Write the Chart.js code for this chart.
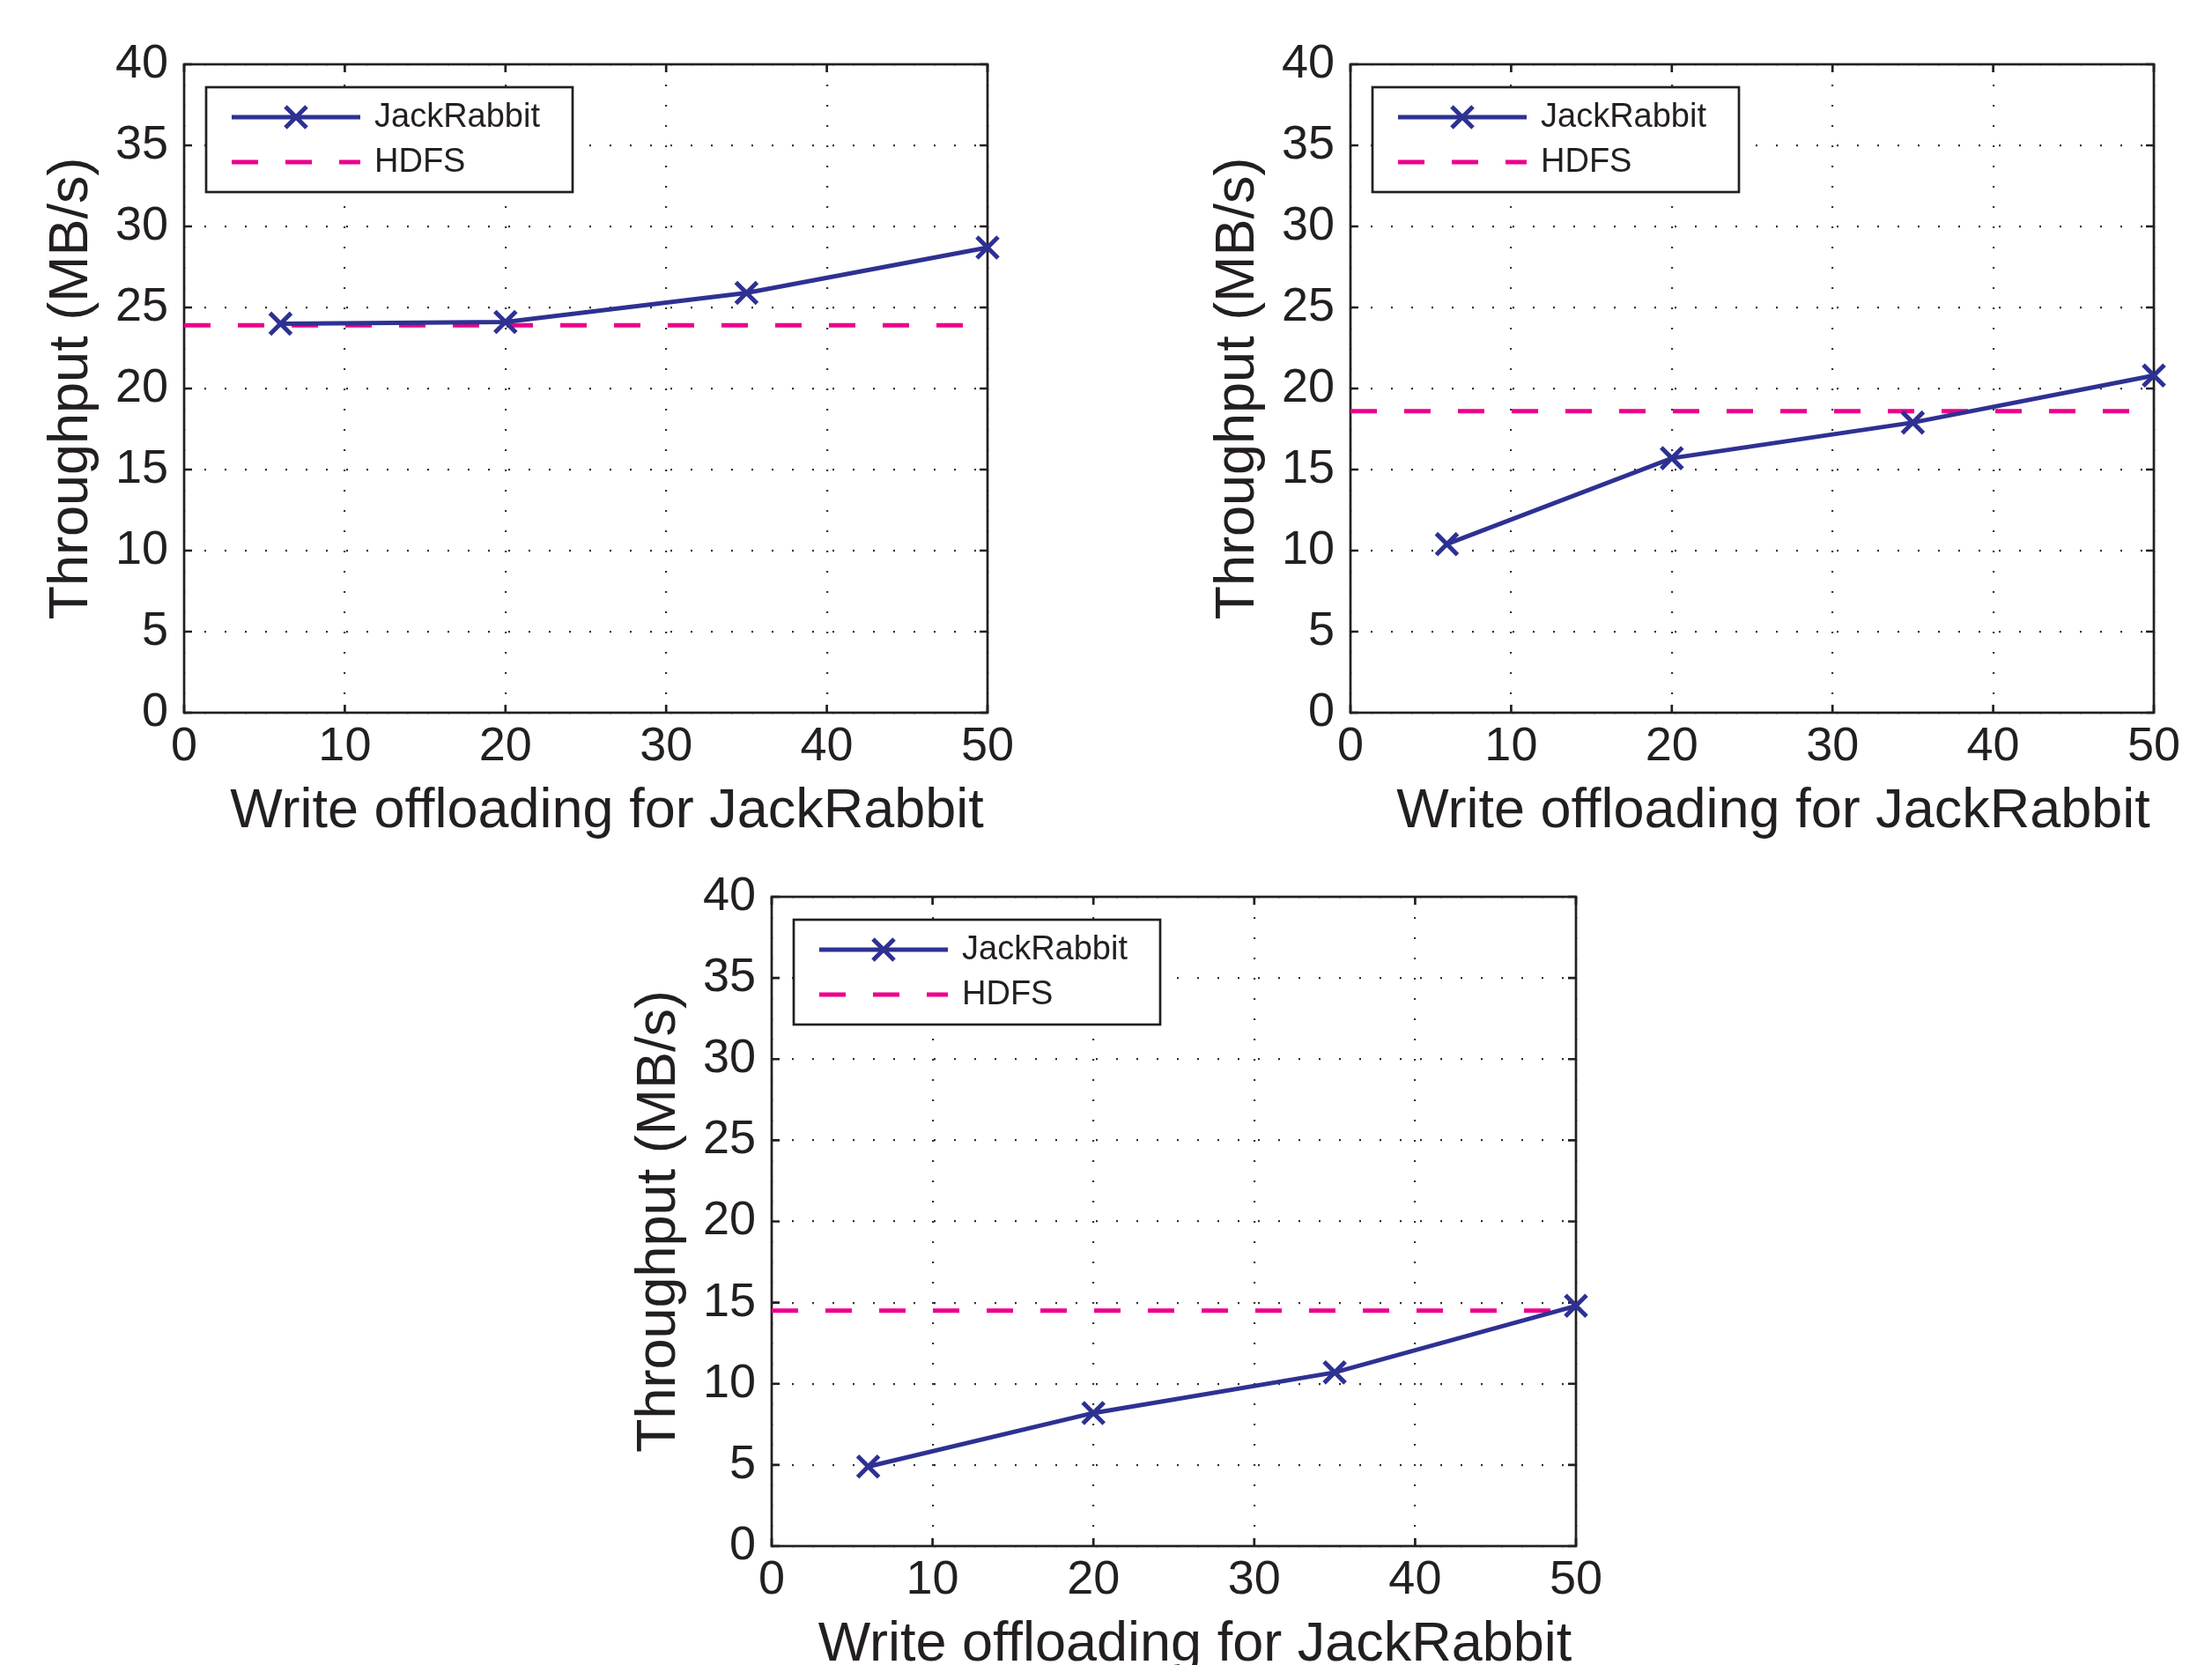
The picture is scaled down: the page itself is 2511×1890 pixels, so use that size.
<!DOCTYPE html>
<html lang="en">
<head>
<meta charset="UTF-8">
<title>Write offloading for JackRabbit</title>
<script src="https://cdn.jsdelivr.net/npm/chart.js"></script>
<style>
  html, body { margin: 0; padding: 0; background: #fff; overflow: hidden; }
  body { width: 2511px; height: 1890px; position: relative; }
  canvas { position: absolute; }
</style>
</head>
<body>
<canvas id="chart-a" width="1250" height="960" style="left:0px;top:0px"></canvas>
<canvas id="chart-b" width="1187" height="960" style="left:1324px;top:0px"></canvas>
<canvas id="chart-c" width="1250" height="961" style="left:667px;top:945px"></canvas>

<script>
    // offloading levels on the x axis
    const offloading = [6, 20, 35, 50];

    // JackRabbit throughput (MB/s), one list per panel
    const jackRabbitA = [24.0, 24.1, 25.9, 28.7];
    const jackRabbitB = [10.4, 15.7, 17.9, 20.8];
    const jackRabbitC = [4.9, 8.2, 10.7, 14.8];

    // HDFS baseline (MB/s)
    const hdfsA = 23.9;
    const hdfsB = 18.6;
    const hdfsC = 14.5;

    const xTicks = [0, 10, 20, 30, 40, 50];
    const yTicks = [0, 5, 10, 15, 20, 25, 30, 35, 40];

    const seriesNames = ['JackRabbit', 'HDFS'];
    const xTitle = 'Write offloading for JackRabbit';
    const yTitle = 'Throughput (MB/s)';

    const FONT = '"Liberation Sans", Arial, Helvetica, sans-serif';
    const INK = '#231f20';
    const BLUE = '#2e3192';
    const PINK = '#ec008c';

    // box + inward tick marks like matlab
    const framePlugin = {
        id: 'frame',
        beforeDatasetsDraw(chart) {
            const { ctx, chartArea: a, scales: { x, y } } = chart;
            ctx.save();
            ctx.strokeStyle = INK;
            ctx.lineWidth = 2.7;
            ctx.beginPath();
            xTicks.forEach(v => {
                const px = x.getPixelForValue(v);
                ctx.moveTo(px, a.top); ctx.lineTo(px, a.top + 9);
                ctx.moveTo(px, a.bottom); ctx.lineTo(px, a.bottom - 9);
            });
            yTicks.forEach(v => {
                const py = y.getPixelForValue(v);
                ctx.moveTo(a.left, py); ctx.lineTo(a.left + 9, py);
                ctx.moveTo(a.right, py); ctx.lineTo(a.right - 9, py);
            });
            ctx.stroke();
            ctx.strokeRect(a.left, a.top, a.right - a.left, a.bottom - a.top);
            ctx.restore();
        },
        afterDraw(chart) {
            // x title sits a bit right of the plot centre in the original
            const { ctx, chartArea: a } = chart;
            ctx.save();
            ctx.fillStyle = INK;
            ctx.font = '63px ' + FONT;
            ctx.textAlign = 'center';
            ctx.textBaseline = 'alphabetic';
            ctx.fillText(xTitle, (a.left + a.right) / 2 + 24, a.bottom + 130);
            ctx.restore();
        }
    };

    // legend box inside the plot, upper left
    const legendPlugin = {
        id: 'boxLegend',
        afterDatasetsDraw(chart) {
            const { ctx, chartArea: a } = chart;
            const left = a.left + 25, top = a.top + 26;
            ctx.save();
            ctx.fillStyle = '#fff';
            ctx.fillRect(left, top, 416, 119);
            ctx.strokeStyle = INK;
            ctx.lineWidth = 2.7;
            ctx.strokeRect(left, top, 416, 119);

            chart.data.datasets.forEach((ds, i) => {
                const yy = top + 34 + i * 51;
                ctx.strokeStyle = ds.borderColor;
                ctx.lineWidth = ds.borderWidth;
                ctx.setLineDash(ds.borderDash || []);
                ctx.beginPath();
                ctx.moveTo(left + 29, yy);
                ctx.lineTo(left + 175, yy);
                ctx.stroke();
                ctx.setLineDash([]);
                if (ds.pointRadius) {
                    const cx = left + 102, d = ds.pointRadius * Math.SQRT1_2;
                    ctx.lineWidth = ds.pointBorderWidth;
                    ctx.beginPath();
                    ctx.moveTo(cx - d, yy - d); ctx.lineTo(cx + d, yy + d);
                    ctx.moveTo(cx - d, yy + d); ctx.lineTo(cx + d, yy - d);
                    ctx.stroke();
                }
                ctx.fillStyle = INK;
                ctx.font = '38px ' + FONT;
                ctx.textBaseline = 'middle';
                ctx.textAlign = 'left';
                ctx.fillText(ds.label, left + 191, yy + 1);
            });
            ctx.restore();
        }
    };

    function makeChart(id, jr, hdfs, rightPad) {
        const ctx = document.getElementById(id).getContext('2d');
        return new Chart(ctx, {
            type: 'line',
            data: {
                datasets: [{
                    label: seriesNames[0],
                    data: offloading.map((x, i) => ({ x: x, y: jr[i] })),
                    borderColor: BLUE,
                    backgroundColor: BLUE,
                    borderWidth: 5,
                    pointStyle: 'crossRot',
                    pointRadius: 17,
                    pointBorderWidth: 5,
                    pointBorderColor: BLUE,
                    tension: 0,
                    clip: false
                }, {
                    label: seriesNames[1],
                    data: [{ x: xTicks[0], y: hdfs }, { x: xTicks[xTicks.length - 1], y: hdfs }],
                    borderColor: PINK,
                    borderWidth: 5,
                    borderDash: [30, 31],
                    pointRadius: 0,
                    tension: 0,
                    clip: false
                }]
            },
            options: {
                responsive: false,
                animation: false,
                events: [],
                layout: { padding: { top: 73, right: rightPad, left: 0, bottom: 0 } },
                plugins: { legend: { display: false }, tooltip: { enabled: false } },
                scales: {
                    x: {
                        type: 'linear',
                        min: xTicks[0],
                        max: xTicks[xTicks.length - 1],
                        ticks: { stepSize: 10, autoSkip: false, maxRotation: 0, padding: 7,
                                 color: INK, font: { family: FONT, size: 54 } },
                        grid: { color: '#333', lineWidth: 2.2, drawTicks: false },
                        border: { display: false, dash: [2, 21] },
                        afterFit(s) { s.height = 151; }
                    },
                    y: {
                        min: yTicks[0],
                        max: yTicks[yTicks.length - 1],
                        ticks: { stepSize: 5, padding: 18, color: INK, font: { family: FONT, size: 54 } },
                        grid: { color: '#333', lineWidth: 2.2, drawTicks: false },
                        border: { display: false, dash: [2, 21] },
                        title: { display: true, text: yTitle, color: INK,
                                 font: { family: FONT, size: 63 }, padding: { top: 44, bottom: 0 } },
                        afterFit(s) { s.width = 209; }
                    }
                }
            },
            plugins: [framePlugin, legendPlugin]
        });
    }

    makeChart('chart-a', jackRabbitA, hdfsA, 129);
    makeChart('chart-b', jackRabbitB, hdfsB, 66);
    makeChart('chart-c', jackRabbitC, hdfsC, 128);
</script>
</body>
</html>
